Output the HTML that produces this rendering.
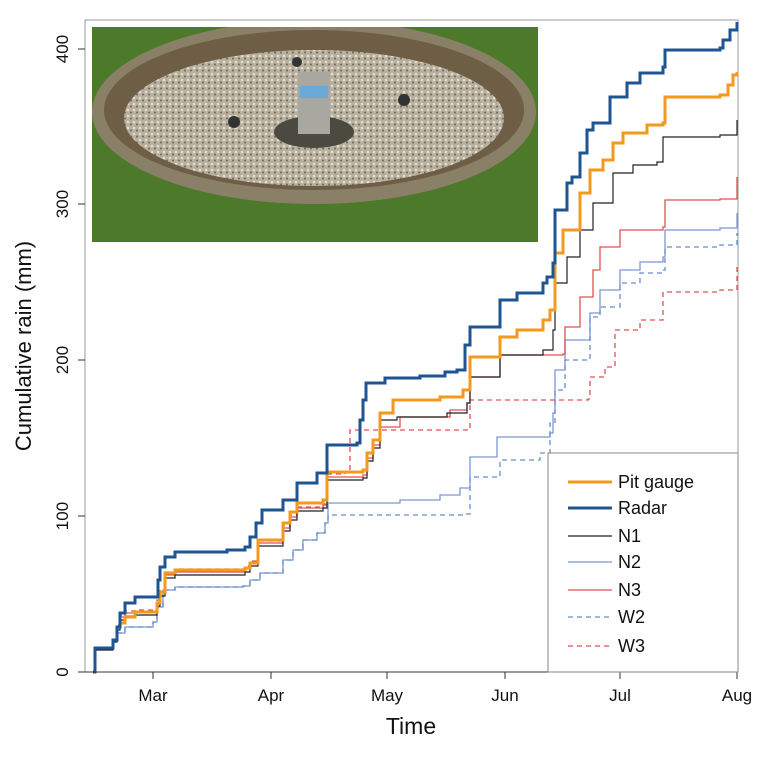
<!DOCTYPE html>
<html><head><meta charset="utf-8"><style>
html,body{margin:0;padding:0;background:#fff;}
svg{display:block;font-family:"Liberation Sans",sans-serif;}
</style></head><body>
<svg id="s" width="764" height="760" viewBox="0 0 764 760" xmlns="http://www.w3.org/2000/svg">
<defs>
<pattern id="gv" width="6" height="6" patternUnits="userSpaceOnUse"><rect width="6" height="6" fill="#b8b09e"/><circle cx="2" cy="2" r="1.3" fill="#e4ddcf"/><circle cx="5" cy="4.5" r="1" fill="#6e6658"/></pattern>
<clipPath id="pc"><rect x="92" y="27" width="446" height="215"/></clipPath>
</defs>
<rect x="85" y="20" width="653" height="652" fill="none" stroke="#999" stroke-width="1"/>
<g clip-path="url(#pc)">
<rect x="92" y="27" width="446" height="215" fill="#4c7a2a"/>
<ellipse cx="314" cy="112" rx="222" ry="92" fill="#8a8068"/>
<ellipse cx="314" cy="110" rx="210" ry="80" fill="#6e5e46"/>
<ellipse cx="314" cy="118" rx="190" ry="68" fill="url(#gv)"/>
<ellipse cx="314" cy="132" rx="40" ry="16" fill="#4a4a40"/>
<rect x="298" y="72" width="32" height="62" fill="#a8a8a0"/>
<rect x="300" y="86" width="28" height="12" fill="#6aa8d8"/>
<circle cx="234" cy="122" r="6" fill="#333"/>
<circle cx="404" cy="100" r="6" fill="#333"/>
<circle cx="297" cy="62" r="5" fill="#333"/>
</g>
<g id="series" fill="none" stroke-linejoin="miter"></g>
<g stroke="#333" stroke-width="1">
<line x1="78" y1="672" x2="85" y2="672"/><line x1="78" y1="516" x2="85" y2="516"/><line x1="78" y1="360" x2="85" y2="360"/><line x1="78" y1="204" x2="85" y2="204"/><line x1="78" y1="49" x2="85" y2="49"/>
<line x1="85" y1="672" x2="738" y2="672"/>
<line x1="153" y1="672" x2="153" y2="679"/><line x1="271" y1="672" x2="271" y2="679"/><line x1="387" y1="672" x2="387" y2="679"/><line x1="505" y1="672" x2="505" y2="679"/><line x1="620" y1="672" x2="620" y2="679"/><line x1="737" y1="672" x2="737" y2="679"/>
</g>
<g font-size="17" fill="#111" text-anchor="middle">
<text transform="translate(68,672) rotate(-90)">0</text>
<text transform="translate(68,516) rotate(-90)">100</text>
<text transform="translate(68,360) rotate(-90)">200</text>
<text transform="translate(68,204) rotate(-90)">300</text>
<text transform="translate(68,49) rotate(-90)">400</text>
<text x="153" y="701">Mar</text><text x="271" y="701">Apr</text><text x="387" y="701">May</text><text x="505" y="701">Jun</text><text x="620" y="701">Jul</text><text x="737" y="701">Aug</text>
</g>
<text x="411" y="734" font-size="23" text-anchor="middle" fill="#111">Time</text>
<text transform="translate(31,346) rotate(-90)" font-size="22" text-anchor="middle" fill="#111">Cumulative rain (mm)</text>
<rect x="548" y="453" width="190" height="219" fill="#fff" stroke="#888"/>
<g stroke-width="1.3">
<line x1="568" y1="482" x2="612" y2="482" stroke="#f39a1e" stroke-width="3"/>
<line x1="568" y1="508" x2="612" y2="508" stroke="#1d5491" stroke-width="3"/>
<line x1="568" y1="536" x2="612" y2="536" stroke="#222"/>
<line x1="568" y1="562" x2="612" y2="562" stroke="#7b98d0"/>
<line x1="568" y1="590" x2="612" y2="590" stroke="#e05050"/>
<line x1="568" y1="617" x2="612" y2="617" stroke="#6a8ccc" stroke-dasharray="5,4"/>
<line x1="568" y1="646" x2="612" y2="646" stroke="#e05050" stroke-dasharray="5,4"/>
</g>
<g font-size="18" fill="#111">
<text x="618" y="488">Pit gauge</text><text x="618" y="514">Radar</text><text x="618" y="542">N1</text><text x="618" y="568">N2</text><text x="618" y="596">N3</text><text x="618" y="623">W2</text><text x="618" y="652">W3</text>
</g>
</svg>
<script>
var E=[[93,672],[95,648],[113,640],[117,627],[120,617],[125,613],[135,612],[157,603],[160,592],[165,575],[175,572],[245,568],[250,563],[258,543],[283,528],[290,517],[297,508],[323,505],[327,477],[363,475],[367,458],[373,445],[380,427],[400,417],[450,410],[467,403]];
var S=[
{c:"#7b98d0",w:1.3,d:"",p:[[93,672],[95,648],[113,640],[117,633],[125,627],[153,622],[157,607],[163,590],[175,587],[243,586],[250,580],[260,573],[283,560],[293,550],[303,540],[317,533],[325,523],[328,503],[400,500],[440,495],[460,488],[470,457],[497,437],[550,433],[553,413],[555,370],[565,340],[590,313],[600,290],[620,270],[640,262],[663,257],[665,230],[720,228],[737,213]]},
{c:"#6a8ccc",w:1.3,d:"5,4",p:[[93,672],[95,648],[113,640],[117,633],[125,627],[153,622],[157,607],[163,590],[175,587],[243,586],[250,580],[260,573],[283,560],[293,550],[303,540],[317,533],[325,523],[328,515],[465,514],[470,477],[500,460],[540,453],[550,423],[555,390],[565,360],[590,317],[600,307],[620,283],[640,273],[663,270],[665,247],[720,245],[737,233]]},
{c:"#e05050",w:1.3,d:"5,4",p:[[93,672],[95,648],[113,640],[117,625],[120,615],[125,611],[135,610],[157,600],[160,590],[165,572],[175,569],[245,566],[250,561],[258,541],[283,526],[290,515],[297,507],[323,504],[327,474],[345,472],[350,430],[467,428],[470,400],[588,399],[590,377],[605,367],[615,330],[640,320],[663,292],[720,290],[737,263]]},
{c:"#e05050",w:1.3,d:"",p:E.concat([[470,377],[500,355],[563,354],[565,327],[580,297],[593,270],[600,247],[620,230],[663,227],[665,200],[720,199],[737,177]])},
{c:"#222",w:1.2,d:"",p:[[93,672],[95,650],[113,642],[117,630],[120,620],[125,616],[135,615],[157,606],[160,596],[165,578],[175,575],[245,572],[250,566],[258,546],[283,531],[290,520],[297,511],[323,508],[327,480],[363,478],[367,461],[373,448],[380,420],[397,417],[447,413],[467,403],[470,377],[500,355],[543,350],[553,330],[555,283],[567,257],[580,230],[593,203],[613,173],[633,165],[657,162],[663,137],[720,135],[737,120]]},
{c:"#f39a1e",w:3,d:"",p:[[93,672],[95,648],[113,640],[117,627],[120,623],[125,617],[135,612],[157,603],[160,592],[165,573],[175,570],[245,568],[250,563],[258,540],[283,523],[290,512],[297,503],[323,500],[327,472],[363,470],[367,453],[373,440],[380,413],[393,400],[440,397],[463,390],[470,357],[500,337],[517,330],[543,320],[550,310],[555,253],[563,230],[580,193],[590,170],[603,160],[613,143],[623,133],[647,125],[663,123],[665,97],[720,95],[728,85],[733,75],[737,72]]},
{c:"#1d5491",w:3,d:"",p:[[93,672],[95,648],[112,648],[113,640],[117,627],[120,613],[125,603],[135,597],[158,580],[160,567],[165,557],[175,552],[227,550],[245,547],[250,537],[256,523],[262,510],[283,500],[297,483],[317,473],[327,445],[357,443],[360,420],[363,400],[366,383],[385,378],[420,376],[445,372],[457,370],[465,345],[470,327],[500,300],[517,293],[543,283],[547,277],[553,263],[555,210],[567,183],[572,177],[580,153],[587,130],[593,123],[610,97],[627,83],[640,73],[663,67],[665,50],[720,48],[723,40],[730,30],[737,22]]}
];
var g=document.getElementById("series"),ns="http://www.w3.org/2000/svg";
S.forEach(function(s){var p=s.p,d="M"+p[0][0]+" "+p[0][1];for(var i=1;i<p.length;i++){d+=" H"+p[i][0]+" V"+p[i][1];}
var e=document.createElementNS(ns,"path");e.setAttribute("d",d);e.setAttribute("stroke",s.c);e.setAttribute("stroke-width",s.w);if(s.d)e.setAttribute("stroke-dasharray",s.d);g.appendChild(e);});
</script>
</body></html>
